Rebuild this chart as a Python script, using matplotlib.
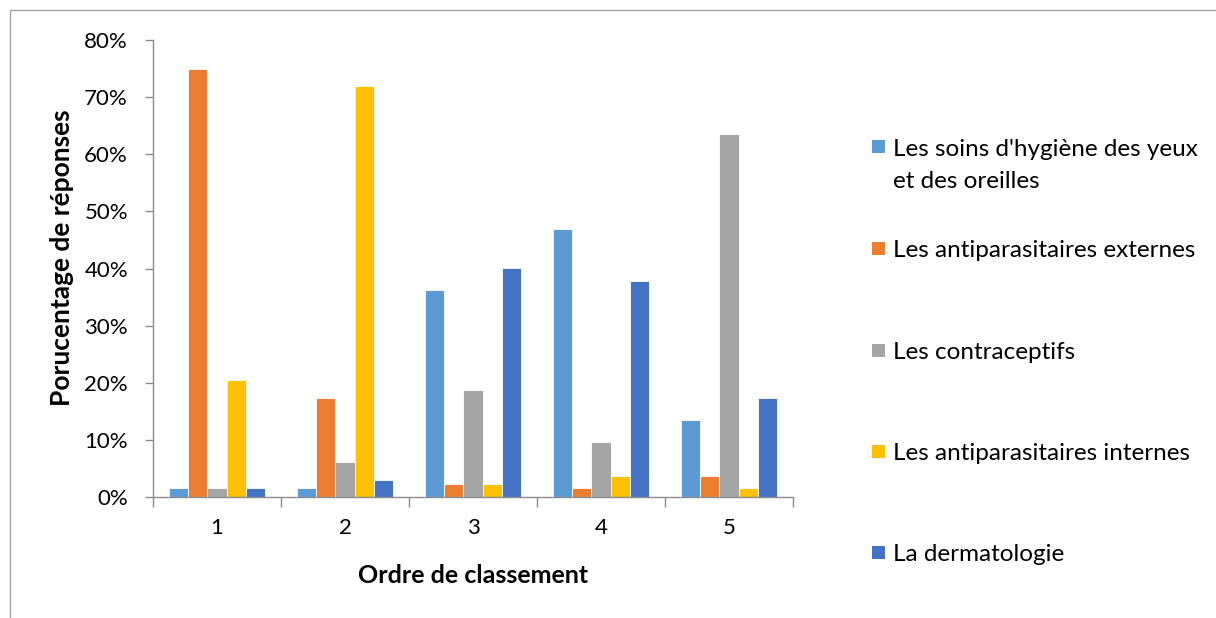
import matplotlib.pyplot as plt
import numpy as np
from matplotlib.patches import Rectangle
from matplotlib.ticker import PercentFormatter

plt.rcParams['font.family'] = ['Lato', 'DejaVu Sans']

rangs = ['1', '2', '3', '4', '5']
series = ["Les soins d'hygiène des yeux\net des oreilles",
          "Les antiparasitaires externes",
          "Les contraceptifs",
          "Les antiparasitaires internes",
          "La dermatologie"]
soins = [1.5, 1.5, 36.3, 46.9, 13.5]
externes = [75.0, 17.4, 2.2, 1.5, 3.7]
contraceptifs = [1.5, 6.1, 18.8, 9.7, 63.5]
internes = [20.5, 72.0, 2.2, 3.7, 1.5]
dermato = [1.5, 3.0, 40.1, 37.8, 17.3]
couleurs = ['#5B9BD5', '#ED7D31', '#A5A5A5', '#FFC000', '#4472C4']

fig = plt.figure(figsize=(12.16, 6.18), dpi=100)
ax = fig.add_axes([0.1258, 0.1958, 0.5263, 0.7394])

x = np.arange(len(rangs))
w = 0.15
valeurs = [soins, externes, contraceptifs, internes, dermato]
for i, (vals, c) in enumerate(zip(valeurs, couleurs)):
    ax.bar(x + (i - 2) * w, vals, width=w, color=c, edgecolor='white', linewidth=0.6)

ax.set_xlim(-0.5, 4.5)
ax.set_ylim(0, 80)
ax.set_yticks(np.arange(0, 81, 10))
ax.yaxis.set_major_formatter(PercentFormatter(decimals=0))
ax.set_xticks(x)
ax.set_xticklabels(rangs)
ax.set_xticks(np.arange(-0.5, 5, 1), minor=True)
ax.tick_params(axis='x', which='major', length=0, pad=15, labelsize=16)
ax.tick_params(axis='x', which='minor', length=7, color='#8C8C8C', width=1)
ax.tick_params(axis='y', length=6, color='#8C8C8C', width=1, pad=12, labelsize=16)

for s in ['top', 'right']:
    ax.spines[s].set_visible(False)
for s in ['left', 'bottom']:
    ax.spines[s].set_color('#8C8C8C')
    ax.spines[s].set_linewidth(1)

ax.set_ylabel('Porucentage de réponses', fontsize=19, fontweight='bold')
ax.yaxis.set_label_coords(-0.123, 0.523)
ax.set_xlabel('Ordre de classement', fontsize=18, fontweight='bold', labelpad=19)

# légende à droite, dessinée à la main
W, H = 1216, 618
ys = [147, 249, 351, 452, 553]
for nom, c, yp in zip(series, couleurs, ys):
    n = nom.count('\n')
    fig.patches.append(Rectangle((872 / W, 1 - (yp + 6) / H), 13 / W, 13 / H,
                                 transform=fig.transFigure, facecolor=c, edgecolor='none'))
    fig.text(893 / W, 1 - (yp + 8 + n * 33) / H, nom, fontsize=17.5, va='baseline',
             ha='left', linespacing=1.65)

# cadre du graphique
fig.patches.append(Rectangle((10 / W, -0.1), 1.2, 1 - 10 / H + 0.1, transform=fig.transFigure,
                             facecolor='none', edgecolor='#A6A6A6', linewidth=1))

fig.savefig('out.png', dpi=100)
